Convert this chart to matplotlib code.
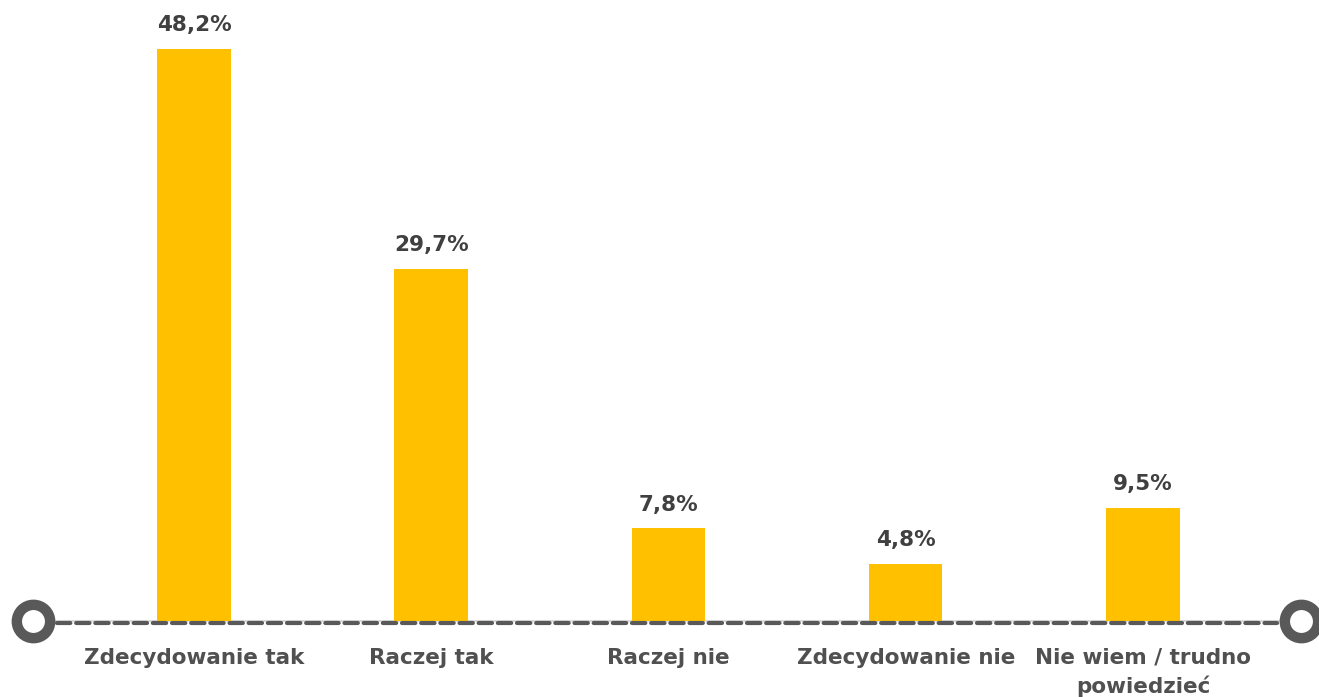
import matplotlib
matplotlib.use("Agg")
import matplotlib.pyplot as plt

categories = ["Zdecydowanie tak", "Raczej tak", "Raczej nie", "Zdecydowanie nie", "Nie wiem / trudno\npowiedzieć"]
values = [48.2, 29.7, 7.8, 4.8, 9.5]
value_labels = ["48,2%", "29,7%", "7,8%", "4,8%", "9,5%"]

bar_color = "#FFC000"
value_color = "#404040"
text_color = "#505050"
axis_color = "#595959"

plt.rcParams['font.family'] = ['DejaVu Sans']

fig = plt.figure(figsize=(13.19, 6.97), dpi=100)
ax = fig.add_axes([0, 0.109, 1, 0.891])

x = list(range(len(categories)))
ax.bar(x, values, width=0.31, color=bar_color, zorder=2)

for xi, v, lab in zip(x, values, value_labels):
    ax.annotate(lab, (xi, v), xytext=(0, 10), textcoords="offset points",
                ha="center", va="bottom", fontsize=15.5, fontweight="bold", color=value_color)

# axis line with circles at both ends
left_end, right_end = -0.679, 4.667
ax.plot([left_end, right_end], [0, 0], color="#D9D9D9", lw=1.5, zorder=1, clip_on=False)
ax.plot([left_end + 0.1, right_end - 0.1], [-0.15, -0.15], color=axis_color, lw=3,
        dashes=(3.2, 1.4), dash_capstyle="round",
        zorder=3, clip_on=False)
ax.plot([left_end, right_end], [0, 0], linestyle="none", marker="o", markersize=24,
        markerfacecolor="white", markeredgecolor=axis_color, markeredgewidth=7.5,
        zorder=4, clip_on=False)

for xi, cat in zip(x, categories):
    ax.text(xi, -2.25, cat, ha="center", va="top", fontsize=15.5, fontweight="bold",
            color=text_color, linespacing=1.45)

ax.set_xlim(-0.8177, 4.742)
ax.set_ylim(0, 52.33)
ax.axis("off")

fig.savefig("out.png", dpi=100)
